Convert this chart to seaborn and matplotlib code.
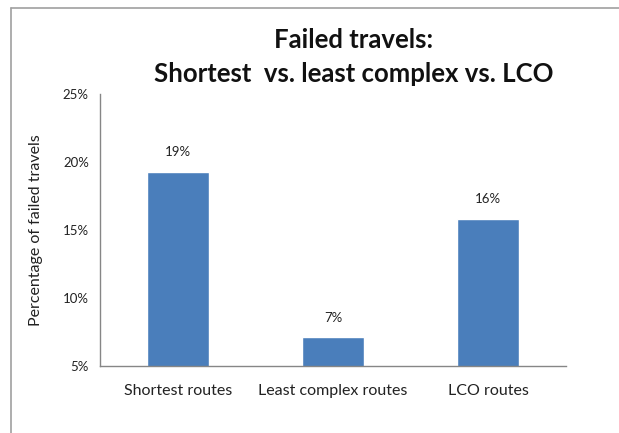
import matplotlib
matplotlib.use('Agg')
import matplotlib.pyplot as plt
from matplotlib.lines import Line2D
import seaborn as sns
import pandas as pd

routes = ['Shortest routes', 'Least complex routes', 'LCO routes']
failed_pct = [19.3, 7.1, 15.8]
bar_labels = ['19%', '7%', '16%']
y_ticks = [5, 10, 15, 20, 25]


def main():
    sns.set_style('white')
    plt.rcParams['font.family'] = ['Lato', 'DejaVu Sans']

    df = pd.DataFrame({'route': routes, 'pct': failed_pct})
    fig = plt.figure(figsize=(6.19, 4.33), dpi=100)
    ax = fig.add_axes([100 / 619, 1 - 366 / 433, 466 / 619, 272 / 433])

    sns.barplot(data=df, x='route', y='pct', order=routes, color='#4A7EBB',
                saturation=1, width=0.4, ax=ax)
    ax.bar_label(ax.containers[0], labels=bar_labels, padding=10,
                 fontsize=9.5, color='#222222')

    ax.set_xlim(-0.5, 2.5)
    ax.set_ylim(5, 25)
    ax.set_yticks(y_ticks)
    ax.set_yticklabels([f'{t}%' for t in y_ticks], fontsize=9.5, color='#222222')
    ax.set_xticks([-0.5, 0.5, 1.5, 2.5], minor=True)
    ax.tick_params(axis='x', which='major', length=0, labelsize=11.5, pad=13,
                   labelcolor='#222222')
    ax.tick_params(axis='x', which='minor', length=5, width=1, color='#868686', direction='out')
    ax.tick_params(axis='y', length=4, width=1, color='#868686', direction='out', pad=4)
    ax.set_xlabel('')
    ax.set_ylabel('Percentage of failed travels', fontsize=11.5, labelpad=14, color='#222222')
    for s in ['top', 'right']:
        ax.spines[s].set_visible(False)
    for s in ['left', 'bottom']:
        ax.spines[s].set_color('#868686')
        ax.spines[s].set_linewidth(1)

    fig.text(354 / 619, 1 - 40 / 433, 'Failed travels:', ha='center', va='center',
             fontsize=18.5, fontweight='bold', color='#111111')
    fig.text(354 / 619, 1 - 74 / 433, 'Shortest  vs. least complex vs. LCO', ha='center',
             va='center', fontsize=18.5, fontweight='bold', color='#111111')

    # chart frame
    fig.add_artist(Line2D([11 / 619, 11 / 619], [0, 1 - 8 / 433], color='#A0A0A0', lw=1.2))
    fig.add_artist(Line2D([11 / 619, 1], [1 - 8 / 433, 1 - 8 / 433], color='#A0A0A0', lw=1.2))

    fig.savefig('out.png', dpi=100)


if __name__ == '__main__':
    main()
